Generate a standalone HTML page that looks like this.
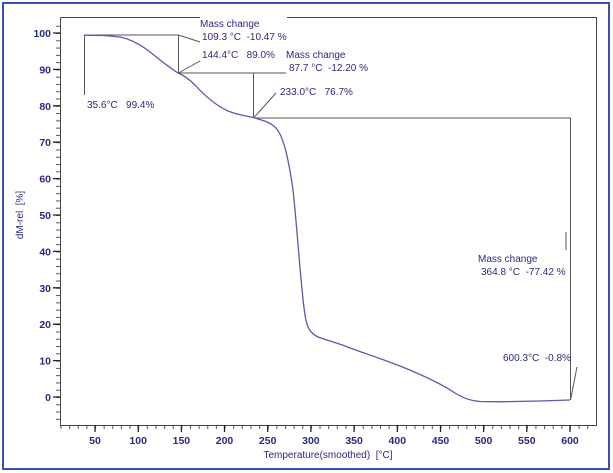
<!DOCTYPE html>
<html><head><meta charset="utf-8"><style>
html,body{margin:0;padding:0;background:#fff;width:613px;height:473px;overflow:hidden}
svg{display:block}
text{font-family:"Liberation Sans",Arial,sans-serif;fill:#2a2a80;white-space:pre}
</style></head><body>
<svg width="613" height="473" viewBox="0 0 613 473" xml:space="preserve">
<defs>
<pattern id="xm" x="51.82" y="0" width="8.636" height="473" patternUnits="userSpaceOnUse"><rect x="0" y="0" width="1" height="473" fill="#555"/></pattern>
<pattern id="ym" x="0" y="397" width="613" height="7.28" patternUnits="userSpaceOnUse"><rect x="0" y="0" width="613" height="1" fill="#555"/></pattern>
</defs>
<rect x="3" y="3" width="606" height="466" fill="#fff" stroke="#3b4fb0" stroke-width="2"/>
<g stroke="#444" stroke-width="1" fill="none">
<path d="M60.5 17.5H200M287 17.5H596.5V425.5H60.5V17.5"/>
</g>
<rect x="60" y="425" width="530" height="4" fill="url(#xm)"/>
<rect x="56" y="20" width="4" height="402" fill="url(#ym)"/>
<g stroke="#222" stroke-width="1.3">
<path d="M95 425v7M138.2 425v7M181.4 425v7M224.5 425v7M267.7 425v7M310.9 425v7M354.1 425v7M397.3 425v7M440.5 425v7M483.6 425v7M526.8 425v7M570 425v7"/>
<path d="M53 33h7M53 69.4h7M53 105.8h7M53 142.2h7M53 178.6h7M53 215h7M53 251.4h7M53 287.8h7M53 324.2h7M53 360.6h7M53 397h7"/>
</g>
<g font-size="10.5" font-weight="bold" text-anchor="end">
<text x="51" y="37">100</text><text x="51" y="73.4">90</text><text x="51" y="109.8">80</text><text x="51" y="146.2">70</text><text x="51" y="182.6">60</text><text x="51" y="219">50</text><text x="51" y="255.4">40</text><text x="51" y="291.8">30</text><text x="51" y="328.2">20</text><text x="51" y="364.6">10</text><text x="51" y="401">0</text>
</g>
<g font-size="10.5" font-weight="bold" text-anchor="middle">
<text x="95" y="444">50</text><text x="138.2" y="444">100</text><text x="181.4" y="444">150</text><text x="224.5" y="444">200</text><text x="267.7" y="444">250</text><text x="310.9" y="444">300</text><text x="354.1" y="444">350</text><text x="397.3" y="444">400</text><text x="440.5" y="444">450</text><text x="483.6" y="444">500</text><text x="526.8" y="444">550</text><text x="570" y="444">600</text>
</g>
<text x="328" y="458" font-size="10" text-anchor="middle">Temperature(smoothed)  [°C]</text>
<text transform="translate(23,215) rotate(-90)" font-size="10" text-anchor="middle">dM-rel  [%]</text>
<g stroke="#555" stroke-width="1" fill="none">
<path d="M84.5 35V95M84.5 35H178.5V73M178.5 35L200 42M178.5 73L200 61"/>
<path d="M178.5 73H286M253.5 73V118M253.5 118L276 93"/>
<path d="M253.5 118H570.5V400M566 232V250M570.5 400L577 367"/>
</g>
<path d="M84 35.2 L104 35.5 L120 37 C130 39 140 44 150 52 C160 60 170 68 178 73 C183 75 188 78 195 85 C205 96 215 105 228 111 C238 115 247 116 253 117.5 C262 120 270 122 276 128 C283 136 288 155 293 190 C297 225 301 290 305 315 C307 328 310 333 318 337 C326 340 334 342 345 346 C360 352 380 358 400 366 C420 374 440 383 455 393 C465 399 472 401 480 401.5 L500 401.8 L540 401 L570 400"
 fill="none" stroke="#5a5aa8" stroke-width="1.3"/>
<g font-size="10">
<text x="200" y="27">Mass change</text>
<text x="202" y="40">109.3 °C  -10.47 %</text>
<text x="202" y="58">144.4°C   89.0%</text>
<text x="286" y="58">Mass change</text>
<text x="289" y="71">87.7 °C  -12.20 %</text>
<text x="280" y="95">233.0°C   76.7%</text>
<text x="87" y="108">35.6°C   99.4%</text>
<text x="478" y="262">Mass change</text>
<text x="481" y="275">364.8 °C  -77.42 %</text>
<text x="503" y="361">600.3°C  -0.8%</text>
</g>
</svg>
</body></html>
